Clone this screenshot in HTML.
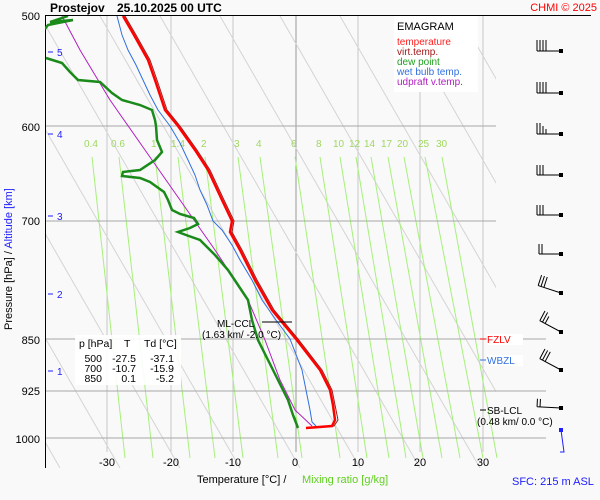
<!DOCTYPE html>
<html><head><meta charset="utf-8"><style>
html,body{margin:0;padding:0;background:#f9f9f9}
svg{display:block;font-family:"Liberation Sans",sans-serif}
</style></head><body>
<svg width="600" height="500" viewBox="0 0 600 500" xmlns="http://www.w3.org/2000/svg">
<rect width="600" height="500" fill="#f9f9f9"/>
<defs><clipPath id="pc"><rect x="45" y="16" width="451" height="452"/></clipPath></defs>
<g stroke="#c8c8c8" stroke-width="1">
<line x1="107" y1="16" x2="107" y2="452"/><line x1="171" y1="16" x2="171" y2="452"/><line x1="233" y1="16" x2="233" y2="452"/>
<line x1="358" y1="16" x2="358" y2="452"/><line x1="420" y1="16" x2="420" y2="452"/><line x1="483" y1="16" x2="483" y2="452"/>
</g>
<line x1="296" y1="16" x2="296" y2="452" stroke="#999"/>
<g stroke="#d4d4d4" stroke-width="1" clip-path="url(#pc)">
<line x1="-200" y1="16" x2="60" y2="468"/><line x1="-140" y1="16" x2="120" y2="468"/><line x1="-80" y1="16" x2="180" y2="468"/>
<line x1="-20" y1="16" x2="240" y2="468"/><line x1="40" y1="16" x2="300" y2="468"/><line x1="100" y1="16" x2="360" y2="468"/>
<line x1="160" y1="16" x2="420" y2="468"/><line x1="220" y1="16" x2="480" y2="468"/><line x1="280" y1="16" x2="540" y2="468"/>
<line x1="340" y1="16" x2="600" y2="468"/><line x1="400" y1="16" x2="660" y2="468"/><line x1="460" y1="16" x2="720" y2="468"/>
</g>
<g stroke="#a6f07a" stroke-width="1">
<line x1="92" y1="157" x2="125" y2="458"/><line x1="119" y1="157" x2="153" y2="458"/><line x1="155" y1="157" x2="190" y2="458"/>
<line x1="178" y1="157" x2="215" y2="458"/><line x1="205" y1="157" x2="243" y2="458"/><line x1="238" y1="157" x2="278" y2="458"/>
<line x1="260" y1="157" x2="302" y2="458"/><line x1="295" y1="157" x2="340" y2="458"/><line x1="320" y1="157" x2="367" y2="458"/>
<line x1="340" y1="157" x2="389" y2="458"/><line x1="356" y1="157" x2="406" y2="458"/><line x1="371" y1="157" x2="423" y2="458"/>
<line x1="388" y1="157" x2="442" y2="458"/><line x1="404" y1="157" x2="460" y2="458"/><line x1="425" y1="157" x2="483" y2="458"/>
<line x1="442" y1="157" x2="497" y2="458"/>
</g>
<g fill="#9fd860" font-size="10">
<text x="84" y="147">0.4</text><text x="111" y="147">0.6</text><text x="151" y="147">1</text><text x="171" y="147">1.4</text>
<text x="201" y="147">2</text><text x="234" y="147">3</text><text x="256" y="147">4</text><text x="291" y="147">6</text>
<text x="316" y="147">8</text><text x="333" y="147">10</text><text x="349" y="147">12</text><text x="364" y="147">14</text>
<text x="381" y="147">17</text><text x="397" y="147">20</text><text x="418" y="147">25</text><text x="436" y="147">30</text>
</g>
<g stroke="#a8a8a8" stroke-width="1">
<line x1="45" y1="126" x2="496" y2="126"/><line x1="45" y1="221" x2="496" y2="221"/>
<line x1="45" y1="339" x2="546" y2="339"/><line x1="45" y1="391" x2="546" y2="391"/><line x1="45" y1="438" x2="546" y2="438"/>
</g>
<line x1="45" y1="15.5" x2="591" y2="15.5" stroke="#000"/>
<line x1="45.5" y1="15" x2="45.5" y2="468" stroke="#000"/>
<rect x="394" y="16" width="84" height="76" fill="#fff"/>
<text x="397" y="30" font-size="11">EMAGRAM</text>
<g font-size="10"><text x="397" y="45" fill="#ff2020">temperature</text><text x="397" y="55" fill="#a01818">virt.temp.</text>
<text x="397" y="65" fill="#20a020">dew point</text><text x="397" y="75" fill="#3070e0">wet bulb temp.</text><text x="397" y="85" fill="#b020c0">udpraft v.temp.</text></g>
<rect x="75" y="335" width="106" height="50" fill="#fff" opacity="0.9"/>
<g font-size="10.5" fill="#000"><text x="79" y="347">p [hPa]</text><text x="124" y="347">T</text><text x="144" y="347">Td [°C]</text>
<text x="102" y="362" text-anchor="end">500</text><text x="136" y="362" text-anchor="end">-27.5</text><text x="174" y="362" text-anchor="end">-37.1</text>
<text x="102" y="372" text-anchor="end">700</text><text x="136" y="372" text-anchor="end">-10.7</text><text x="174" y="372" text-anchor="end">-15.9</text>
<text x="102" y="382" text-anchor="end">850</text><text x="136" y="382" text-anchor="end">0.1</text><text x="174" y="382" text-anchor="end">-5.2</text></g>
<g fill="none" clip-path="url(#pc)">
<polyline stroke="#b020c0" stroke-width="1" points="62,16 80,50 110,100 145,150 180,200 215,250 248,300 265,340 280,380 295,410 312,426"/>
<polyline stroke="#3070e0" stroke-width="1" points="117,16 122,35 128,50 136,65 143,80 150,95 158,110 170,126 180,143 188,160 195,175 200,190 207,205 213,221 222,230 232,245 240,260 252,280 262,300 276,320 290,339 302,370 306,390 310,410 312,422 316,426"/>
<polyline stroke="#a01818" stroke-width="1" points="125,16 136,35 150,60 157,80 162,95 167,110 180,126 197,150 210,170 224,200 234,221 232,232 242,250 257,280 274,310 298,339 322,370 332,390 335,405 338,420 334,426 306,428"/>
<polyline stroke="#ff0000" stroke-width="2.5" points="123,16 134,35 148,60 155,80 160,95 165,110 178,126 195,150 208,170 222,200 232,221 230,232 240,250 255,280 272,310 296,339 320,370 330,390 333,405 335,420 332,426 306,428"/>
<polyline stroke="#1a8a1a" stroke-width="2.5" points="68,16 50,22 73,20 48,25 45,29"/>
<polyline stroke="#1a8a1a" stroke-width="2.5" points="46,58 62,63 70,72 78,80 100,82 112,93 122,100 140,105 152,110 155,120 156,126 157,140 162,152 155,160 140,170 123,172 122,176 140,178 150,182 157,187 164,192 168,200 170,205 172,210 180,214 194,218 198,224 190,228 178,232 186,235 200,240 206,246 215,255 228,270 238,285 248,300 252,320 258,340 268,360 278,380 288,400 293,415 298,428"/>
</g>
<line x1="262" y1="322" x2="292" y2="322" stroke="#000"/>
<text x="217" y="327" font-size="10">ML-CCL</text>
<text x="202" y="338" font-size="10">(1.63 km/ -2.0 °C)</text>
<rect x="487" y="334" width="36" height="11" fill="#fff"/>
<line x1="480" y1="339" x2="486" y2="339" stroke="#f00"/><text x="487" y="343" font-size="10" fill="#f00">FZLV</text>
<rect x="487" y="355" width="36" height="11" fill="#fff"/>
<line x1="480" y1="360" x2="486" y2="360" stroke="#3070e0"/><text x="487" y="364" font-size="10" fill="#3070e0">WBZL</text>
<line x1="480" y1="410" x2="486" y2="410" stroke="#000"/><text x="487" y="414" font-size="10">SB-LCL</text>
<text x="477" y="425" font-size="10">(0.48 km/ 0.0 °C)</text>
<g stroke="#2020ff"><line x1="48" y1="52" x2="53" y2="52"/><line x1="48" y1="134" x2="53" y2="134"/><line x1="48" y1="216" x2="53" y2="216"/><line x1="48" y1="294" x2="53" y2="294"/><line x1="48" y1="371" x2="53" y2="371"/></g>
<g fill="#2020ff" font-size="10"><text x="57" y="56">5</text><text x="57" y="138">4</text><text x="57" y="220">3</text><text x="57" y="298">2</text><text x="57" y="375">1</text></g>
<g font-size="11" text-anchor="end"><text x="40" y="20">500</text><text x="40" y="131">600</text><text x="40" y="225">700</text><text x="40" y="344">850</text><text x="40" y="395">925</text><text x="40" y="443">1000</text></g>
<text transform="translate(12,330) rotate(-90)" font-size="11"><tspan fill="#000">Pressure [hPa]  / </tspan><tspan fill="#2020ff"> Altitude [km]</tspan></text>
<g font-size="11" text-anchor="middle"><text x="107" y="466">-30</text><text x="171" y="466">-20</text><text x="233" y="466">-10</text><text x="295" y="466">0</text><text x="358" y="466">10</text><text x="420" y="466">20</text><text x="483" y="466">30</text></g>
<text x="197" y="483" font-size="11">Temperature [°C]  /</text>
<text x="302" y="483" font-size="11" fill="#60d020">Mixing ratio [g/kg]</text>
<text x="512" y="485" font-size="11" fill="#2020ff">SFC: 215 m ASL</text>
<text x="50" y="12" font-size="12" font-weight="bold">Prostejov</text>
<text x="117" y="12" font-size="12" font-weight="bold">25.10.2025 00 UTC</text>
<text x="597" y="11" font-size="11" fill="#f00" text-anchor="end">CHMI © 2025</text>
<g stroke="#000" stroke-width="1" fill="none">
<g transform="translate(561,51)"><path d="M0,0H-24M-24,0V-11M-21,0V-11M-18,0V-11M-15,0V-11"/></g>
<g transform="translate(561,93)"><path d="M0,0H-24M-24,0V-11M-21,0V-11M-18,0V-11M-15,0V-11"/></g>
<g transform="translate(561,134)"><path d="M0,0H-24M-24,0V-11M-21,0V-11M-18,0V-8M-15,0V-5"/></g>
<g transform="translate(561,175)"><path d="M0,0H-24M-24,0V-10M-21,0V-10M-18,0V-10"/></g>
<g transform="translate(561,215)"><path d="M0,0H-24M-24,0V-10M-21,0V-10M-18,0V-10"/></g>
<g transform="translate(561,254)"><path d="M0,0H-22M-22,0V-10M-19,0V-10"/></g>
<g transform="translate(561,293) rotate(18)"><path d="M0,0H-24M-24,0V-11M-21,0V-11M-18,0V-11"/></g>
<g transform="translate(561,332) rotate(28)"><path d="M0,0H-24M-24,0V-11M-21,0V-11M-18,0V-8"/></g>
<g transform="translate(561,370) rotate(28)"><path d="M0,0H-24M-24,0V-11M-21,0V-11M-18,0V-11"/></g>
<g transform="translate(561,408) rotate(3)"><path d="M0,0H-24M-24,0V-8M-21,0V-8"/></g>
</g>
<g fill="#000"><rect x="559" y="49" width="4" height="4"/><rect x="559" y="91" width="4" height="4"/><rect x="559" y="132" width="4" height="4"/><rect x="559" y="173" width="4" height="4"/><rect x="559" y="213" width="4" height="4"/><rect x="559" y="252" width="4" height="4"/><rect x="559" y="291" width="4" height="4"/><rect x="559" y="330" width="4" height="4"/><rect x="559" y="368" width="4" height="4"/><rect x="559" y="406" width="4" height="4"/></g>
<polyline points="561,430 564,452 560,452" stroke="#2020ff" fill="none"/>
<rect x="559" y="428" width="4" height="4" fill="#2020ff"/>
</svg>
</body></html>
